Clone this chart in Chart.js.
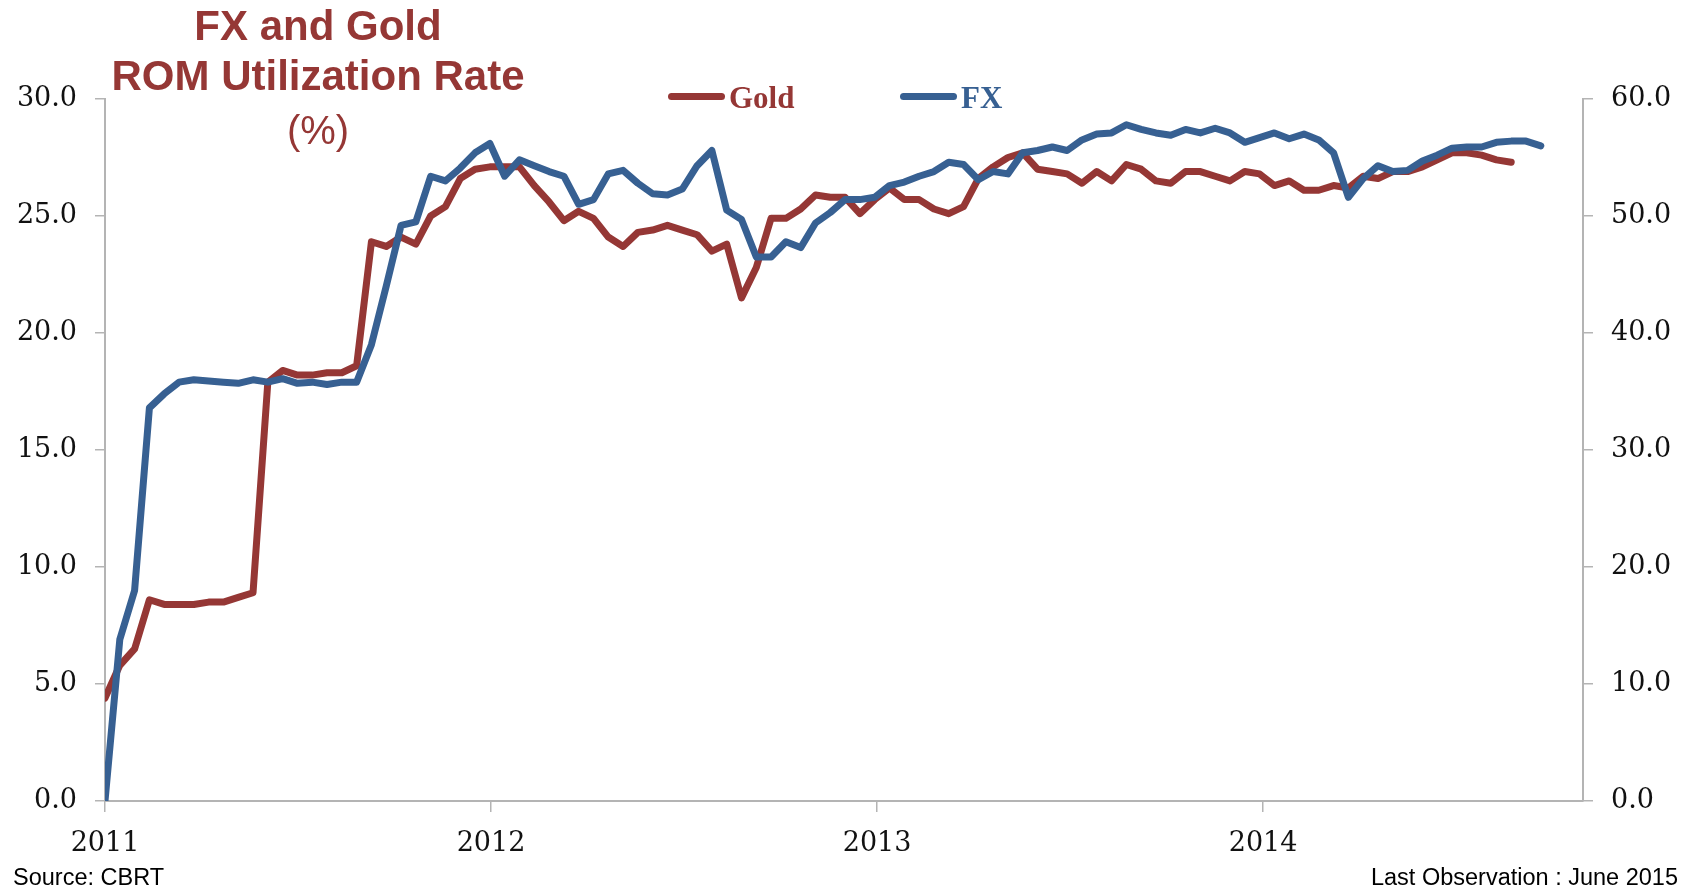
<!DOCTYPE html>
<html>
<head>
<meta charset="utf-8">
<script src="https://cdn.jsdelivr.net/npm/chart.js@4"></script>
<style>
  html, body { margin: 0; padding: 0; background: #ffffff; }
  #wrap { position: relative; width: 1686px; height: 892px; overflow: hidden; }
  canvas { position: absolute; left: 0; top: 0; }
  .txt { position: absolute; white-space: nowrap; line-height: 1; }
  .title { font-family: "Liberation Sans", Arial, sans-serif; color: #953735; text-align: center; width: 500px; left: 68px; }
  .leg-line { position: absolute; height: 7px; border-radius: 4px; }
  .leg-text { font-family: "Liberation Serif", serif; font-weight: bold; font-size: 31px; }
  .note { font-family: "Liberation Sans", Arial, sans-serif; font-size: 23.5px; color: #000; }
</style>
</head>
<body>
<div id="wrap">
  <canvas id="c" width="1686" height="892"></canvas>
  <div class="txt title" style="top:5px;font-size:42px;font-weight:bold;">FX and Gold</div>
  <div class="txt title" style="top:55px;font-size:42px;font-weight:bold;">ROM Utilization Rate</div>
  <div class="txt title" style="top:110px;font-size:40px;">(%)</div>

  <div class="leg-line" style="left:668px;top:93px;width:57px;background:#953735;"></div>
  <div class="txt leg-text" style="left:729px;top:82px;color:#953735;">Gold</div>
  <div class="leg-line" style="left:900px;top:93px;width:57px;background:#376092;"></div>
  <div class="txt leg-text" style="left:961px;top:82px;color:#376092;">FX</div>

  <div class="txt note" style="left:13px;top:866px;">Source: CBRT</div>
  <div class="txt note" style="right:8px;top:866px;">Last Observation : June 2015</div>
</div>
<script>
// ---- data (biweekly observations, index 0 = start of 2011) ----
const goldValues = [4.4,5.8,6.5,8.6,8.4,8.4,8.4,8.5,8.5,8.7,8.9,
  17.9,18.4,18.2,18.2,18.3,18.3,18.6,23.9,23.7,24.1,23.8,
  25.0,25.4,26.6,27.0,27.1,27.1,27.1,26.3,25.6,24.8,
  25.2,24.9,24.1,23.7,24.3,24.4,24.6,24.4,24.2,23.5,
  23.8,21.5,22.8,24.9,24.9,25.3,25.9,25.8,25.8,25.1,
  25.7,26.2,25.7,25.7,25.3,25.1,25.4,26.6,27.1,27.5,
  27.7,27.0,26.9,26.8,26.4,26.9,26.5,27.2,27.0,26.5,
  26.4,26.9,26.9,26.7,26.5,26.9,26.8,26.3,26.5,26.1,
  26.1,26.3,26.2,26.7,26.6,26.9,26.9,27.1,27.4,27.7,
  27.7,27.6,27.4,27.3];
const fxValues = [0,13.8,18.0,33.6,34.8,35.8,36.0,35.9,35.8,35.7,36.0,
  35.8,36.1,35.7,35.8,35.6,35.8,35.8,39.0,44.0,49.2,49.5,
  53.4,53.0,54.1,55.4,56.2,53.4,54.8,54.3,53.8,53.4,
  51.0,51.4,53.6,53.9,52.8,51.9,51.8,52.3,54.3,55.6,
  50.5,49.7,46.5,46.5,47.8,47.3,49.4,50.3,51.4,51.4,
  51.6,52.6,52.9,53.4,53.8,54.6,54.4,53.1,53.8,53.6,
  55.4,55.6,55.9,55.6,56.5,57.0,57.1,57.8,57.4,57.1,
  56.9,57.4,57.1,57.5,57.1,56.3,56.7,57.1,56.6,57.0,
  56.5,55.4,51.6,53.2,54.3,53.8,53.9,54.7,55.2,55.8,
  55.9,55.9,56.3,56.4,56.4,56.0];
const yearLabels = ['2011','2012','2013','2014'];
const yearTickPos = [0, 26.08, 52.16, 78.24];
const xAxisMax = 99.85;

const goldColor = '#953735';
const fxColor = '#376092';
const axisColor = '#b4b4b4';
const tickFont = { family: '"DejaVu Serif", serif', size: 27 };

const toPoints = arr => arr.map((v, i) => ({ x: i, y: v }));

new Chart(document.getElementById('c'), {
  type: 'line',
  data: {
    datasets: [
      { label: 'Gold', data: toPoints(goldValues), yAxisID: 'yL', borderColor: goldColor,
        backgroundColor: goldColor, borderWidth: 7, pointRadius: 0, tension: 0,
        borderJoinStyle: 'round', borderCapStyle: 'round', order: 2 },
      { label: 'FX', data: toPoints(fxValues), yAxisID: 'yR', borderColor: fxColor,
        backgroundColor: fxColor, borderWidth: 7, pointRadius: 0, tension: 0,
        borderJoinStyle: 'round', borderCapStyle: 'round', order: 1 }
    ]
  },
  options: {
    responsive: false,
    animation: false,
    devicePixelRatio: 1,
    layout: { padding: { top: 99, left: 0, right: 0, bottom: 0 } },
    plugins: { legend: { display: false }, tooltip: { enabled: false }, title: { display: false } },
    scales: {
      x: {
        type: 'linear', min: 0, max: xAxisMax,
        afterBuildTicks: s => { s.ticks = yearTickPos.map(v => ({ value: v })); },
        afterFit: s => { s.height = 91; },
        ticks: { autoSkip: false, maxRotation: 0, padding: 16, color: '#111', font: tickFont,
                 callback: (v, i) => yearLabels[i] },
        grid: { drawOnChartArea: false, drawTicks: true, tickLength: 11, color: axisColor, lineWidth: 1.5 },
        border: { display: true, color: axisColor, width: 2 }
      },
      yL: {
        position: 'left', min: 0, max: 30,
        afterFit: s => { s.width = 105; },
        ticks: { stepSize: 5, padding: 18, color: '#111', font: tickFont, callback: v => v.toFixed(1) },
        grid: { drawOnChartArea: false, drawTicks: true, tickLength: 10, color: axisColor, lineWidth: 1.5 },
        border: { display: true, color: axisColor, width: 2 }
      },
      yR: {
        position: 'right', min: 0, max: 60,
        afterFit: s => { s.width = 103; },
        ticks: { stepSize: 10, padding: 18, color: '#111', font: tickFont, callback: v => v.toFixed(1) },
        grid: { drawOnChartArea: false, drawTicks: true, tickLength: 10, color: axisColor, lineWidth: 1.5 },
        border: { display: true, color: axisColor, width: 2 }
      }
    }
  }
});
</script>
</body>
</html>
